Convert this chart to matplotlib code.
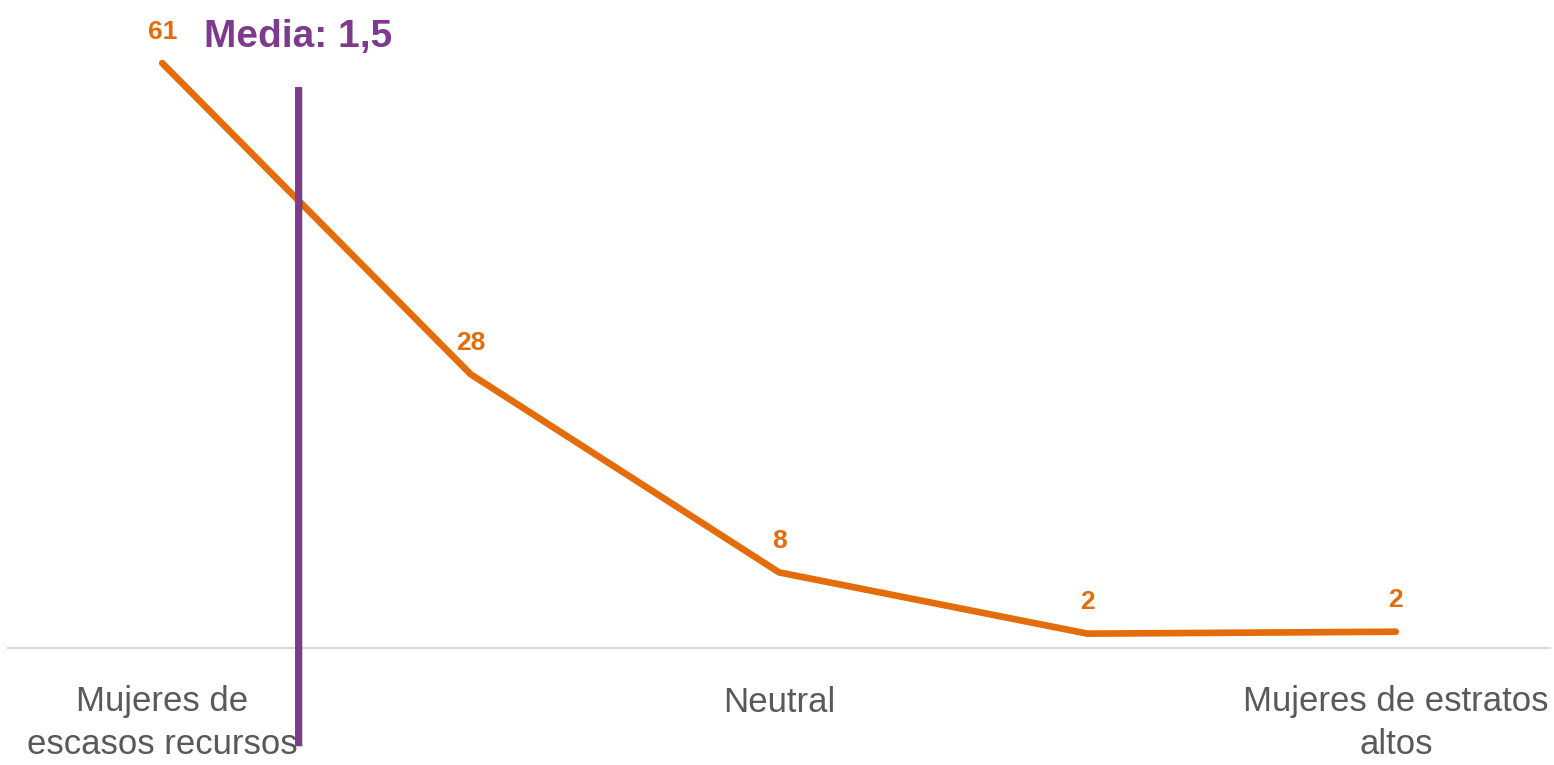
import matplotlib.pyplot as plt
import matplotlib.patheffects as pe

# data
categories = ['Mujeres de\nescasos recursos', '', 'Neutral', '', 'Mujeres de estratos\naltos']
values = [61.1, 28.6, 7.9, 1.5, 1.7]
value_labels = ['61', '28', '8', '2', '2']
media_pos = 0.44
media_text = 'Media: 1,5'

font = ['Liberation Sans', 'DejaVu Sans']
orange = '#E46C0A'
purple = '#7E3A8C'
gray = '#595959'

fig = plt.figure(figsize=(15.54, 7.65), dpi=100)
ax = fig.add_axes([8/1554, 117/765, 1542/1554, 628/765])

x = list(range(len(values)))
ax.plot(x, values, color=orange, linewidth=4.8, solid_capstyle='round',
        solid_joinstyle='round', zorder=3)

for xi, v, lab in zip(x, values, value_labels):
    ax.annotate(lab, (xi, v), xytext=(0, 14), textcoords='offset points',
                ha='center', va='bottom', fontsize=19, fontweight='bold',
                color=orange, family=font)

# mean line
ax.plot([media_pos, media_pos], [-9.8, 58.3], color=purple, linewidth=5,
        clip_on=False, zorder=4,
        path_effects=[pe.SimpleLineShadow(offset=(1, -1), alpha=0.2),
                      pe.Normal()])
ax.text(media_pos, 63.8, media_text, ha='center', va='center', fontsize=28,
        fontweight='bold', color=purple, family=font)

ax.set_xlim(-0.5, 4.5)
ax.set_ylim(0, 65.6)
ax.set_yticks([])
ax.set_xticks(x)
ax.set_xticklabels(categories, fontsize=25, color=gray, family=font,
                   linespacing=1.35)
ax.tick_params(axis='x', length=0, pad=27)
for s in ['top', 'right', 'left']:
    ax.spines[s].set_visible(False)
ax.spines['bottom'].set_color('#D9D9D9')
ax.spines['bottom'].set_linewidth(1.5)

fig.savefig('out.png', dpi=100)
